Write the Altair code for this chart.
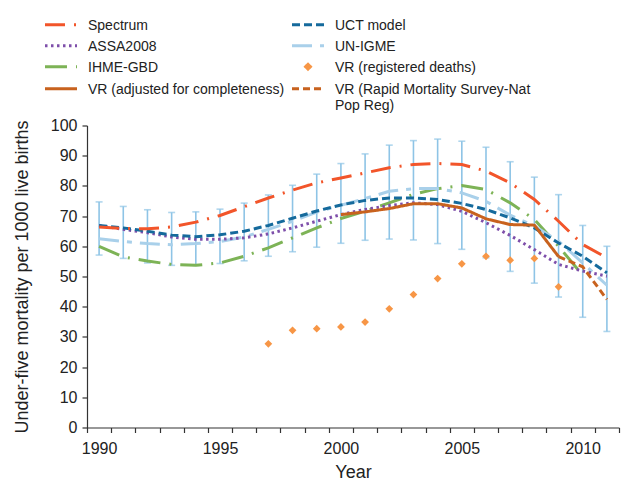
import altair as alt
import pandas as pd

years = list(range(1990, 2012))

spectrum = [66.4, 65.9, 65.8, 66.4, 68.0, 70.2, 73.1, 76.0, 78.6, 81.0, 82.6, 84.3,
            86.0, 87.1, 87.4, 87.1, 84.9, 81.0, 75.5, 68.3, 60.6, 56.2]
uct = [66.9, 66.1, 65.0, 63.7, 63.2, 63.8, 65.0, 66.9, 69.3, 71.7, 73.7, 75.2,
       76.0, 76.0, 75.5, 74.2, 72.2, 69.4, 66.1, 61.1, 56.7, 51.2]
assa = [66.9, 65.6, 64.5, 63.1, 62.3, 62.3, 62.8, 64.1, 66.1, 68.3, 70.5, 72.2,
        73.5, 74.4, 73.8, 71.6, 67.8, 63.6, 58.9, 54.0, 51.8, 50.1]
unigme = [62.5, 61.6, 60.9, 60.5, 60.9, 61.6, 63.1, 65.6, 68.3, 71.3, 73.6, 75.8,
          78.2, 79.1, 79.1, 77.7, 74.9, 70.3, 66.7, 61.7, 54.5, 47.1]
unigme_lo = [57.1, 56.0, 54.5, 53.7, 53.7, 54.3, 55.2, 56.7, 58.2, 59.7, 61.0, 62.0,
             62.4, 62.1, 60.9, 59.0, 56.2, 51.7, 47.8, 43.2, 36.5, 31.8]
unigme_hi = [74.7, 73.2, 72.1, 71.2, 71.4, 72.3, 74.3, 77.0, 80.2, 83.9, 87.4, 90.6,
             93.5, 95.0, 95.5, 94.8, 92.8, 88.0, 82.9, 77.1, 66.9, 60.0]
ihme_years = list(range(1990, 2011))
ihme = [60.0, 56.5, 55.1, 54.0, 53.7, 54.5, 56.7, 59.5, 62.8, 66.1, 69.2, 71.6,
        74.4, 77.2, 79.1, 80.1, 78.8, 74.4, 68.9, 60.0, 50.4]
vr_reg_years = list(range(1997, 2010))
vr_reg = [27.7, 32.2, 32.7, 33.3, 34.9, 39.3, 44.0, 49.3, 54.2, 56.7, 55.4, 56.0, 46.6]
vr_adj_years = list(range(2000, 2010))
vr_adj = [70.5, 71.4, 72.5, 74.1, 74.1, 72.7, 69.1, 67.2, 67.0, 56.6]
vr_rapid_years = [2009, 2010, 2011]
vr_rapid = [56.6, 53.2, 42.4]

# legend order (filled column by column: left column first, then right column)
series = ["Spectrum", "ASSA2008", "IHME-GBD", "VR (adjusted for completeness)",
          "UCT model", "UN-IGME", "VR (registered deaths)",
          "VR (Rapid Mortality Survey-Nat Pop Reg)"]
colors = ["#F2552A", "#7E4FAA", "#7DB356", "#C8621E",
          "#156A9C", "#A9D0EA", "#F79646", "#C8621E"]
dashes = [[20, 9, 2, 9], [2.5, 3.5], [22, 9, 2, 9], [1, 0],
          [8, 4], [20, 8, 5, 8], [1, 0], [7, 4]]
LINE_SYM = "M-4,1.55L4,1.55"
DIAMOND_SYM = "M0,0.95L0.6,1.55L0,2.15L-0.6,1.55Z"
shapes = [LINE_SYM] * 6 + [DIAMOND_SYM] + [LINE_SYM]
ERR_COLOR = "#8EC4E6"
Y_TITLE = "Under-five mortality per 1000 live births"

rows = []
for name, ys, vals in [
    ("IHME-GBD", ihme_years, ihme),
    ("UN-IGME", years, unigme),
    ("ASSA2008", years, assa),
    ("UCT model", years, uct),
    ("Spectrum", years, spectrum),
    ("VR (adjusted for completeness)", vr_adj_years, vr_adj),
    ("VR (Rapid Mortality Survey-Nat Pop Reg)", vr_rapid_years, vr_rapid),
]:
    for yr, v in zip(ys, vals):
        rows.append({"series": name, "year": yr, "value": v})
line_df = pd.DataFrame(rows)
pts_df = pd.DataFrame({"series": "VR (registered deaths)", "year": vr_reg_years, "value": vr_reg})
err_df = pd.DataFrame({"year": years, "lo": unigme_lo, "hi": unigme_hi})

FONT = "Liberation Sans"
x_ticks = [1989.5 + k for k in range(23)]

xscale = alt.Scale(domain=[1989.5, 2011.5], nice=False, zero=False)
yscale = alt.Scale(domain=[0, 100], nice=False)
xaxis = alt.Axis(values=x_ticks, labelOffset=-12.1, labelFlush=False, labelOverlap=False,
                 labelExpr="(datum.value - 0.5) % 5 == 0 ? format(datum.value - 0.5, 'd') : ''",
                 tickSize=5, labelPadding=8, titlePadding=7, grid=False)
yaxis = alt.Axis(values=list(range(0, 101, 10)), tickSize=5, labelPadding=5,
                 titlePadding=19, grid=False)

legend = alt.Legend(
    title=None, orient="none", legendX=-42, legendY=-114, columns=2,
    columnPadding=1, rowPadding=-1.3, padding=0,
    symbolSize=64, symbolStrokeWidth=3, symbolOffset=9, labelOffset=20,
    labelFont=FONT, labelFontSize=14, labelColor="#222222",
    labelLimit=400, labelBaseline="top",
    labelExpr="datum.label == 'VR (Rapid Mortality Survey-Nat Pop Reg)' ? ['VR (Rapid Mortality Survey-Nat', 'Pop Reg)'] : datum.label",
)

color_scale = alt.Scale(domain=series, range=colors)
dash_scale = alt.Scale(domain=series, range=dashes)
shape_scale = alt.Scale(domain=series, range=shapes)

X = alt.X("year:Q", scale=xscale, axis=xaxis, title="Year")
Y = alt.Y("value:Q", scale=yscale, axis=yaxis, title=Y_TITLE)

errbars = alt.Chart(err_df).mark_errorbar(ticks=True, color=ERR_COLOR, size=7, thickness=1.6).encode(
    x=X,
    y=alt.Y("lo:Q", scale=yscale, axis=yaxis, title=Y_TITLE),
    y2="hi:Q",
)

lines = alt.Chart(line_df).mark_line(strokeWidth=3, strokeCap="butt").encode(
    x=X, y=Y,
    color=alt.Color("series:N", scale=color_scale, legend=legend),
    strokeDash=alt.StrokeDash("series:N", scale=dash_scale, legend=legend),
)

points = alt.Chart(pts_df).mark_point(shape="diamond", filled=True, size=60, opacity=1).encode(
    x=X, y=Y,
    color=alt.Color("series:N", scale=color_scale, legend=legend),
)

legend_shapes = alt.Chart(pts_df).transform_filter("false").mark_point(filled=True).encode(
    x=X, y=Y,
    color=alt.Color("series:N", scale=color_scale, legend=legend),
    shape=alt.Shape("series:N", scale=shape_scale, legend=legend),
)

chart = alt.layer(errbars, lines, points, legend_shapes).properties(
    width=532, height=302,
    padding={"left": 5, "top": 3.5, "right": 2, "bottom": 0},
).configure_view(stroke=None).configure_axis(
    labelFont=FONT, titleFont=FONT, labelFontSize=16, titleFontSize=18,
    titleFontWeight="normal", labelColor="#222222", titleColor="#222222",
    domainColor="#333333", tickColor="#333333", domainWidth=1.2, tickWidth=1.2,
)

chart.save("out.html", embed_options={"renderer": "svg", "actions": False})
